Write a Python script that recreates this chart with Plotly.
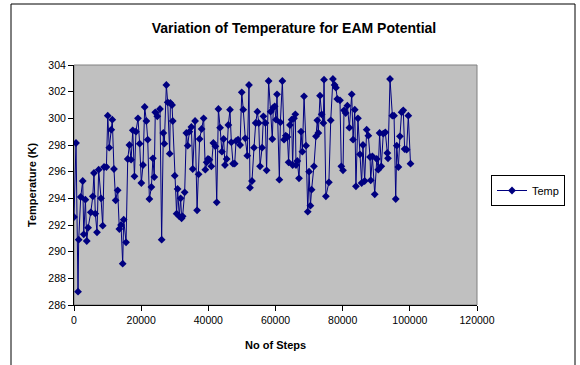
import plotly.graph_objects as go

# Simulation step at which each temperature sample was taken
steps = [
    0, 600, 1200, 1400, 2000, 2600, 2900, 3400, 3800, 4200,
    5000, 5600, 5950, 6350, 6850, 7350, 8050, 8550, 8950, 9650,
    10050, 10500, 11100, 11400, 11900, 12400, 13000, 13500, 14000, 14500,
    14800, 15500, 16000, 16500, 17000, 17500, 18000, 18450, 19050, 19550,
    20050, 20550, 21050, 21550, 21950, 22450, 23050, 23500, 23900, 24200,
    24800, 25600, 26100, 26600, 26900, 27500, 27900, 28500, 28700, 29200,
    29400, 30000, 30550, 30850, 31350, 31750, 32050, 32350, 32950, 33450,
    33850, 34350, 34950, 35350, 36050, 36650, 37100, 37400, 38000, 38600,
    39100, 39500, 39900, 40300, 40900, 41500, 42100, 42500, 43000, 43500,
    44050, 44550, 44950, 45450, 45950, 46450, 46850, 47350, 47850, 48250,
    48850, 49450, 49950, 50400, 51000, 51600, 52100, 52400, 53000, 53600,
    54100, 54600, 55000, 55400, 56000, 56400, 57000, 57350, 57950, 58550,
    59050, 59350, 59750, 60150, 60450, 61150, 61450, 62050, 62550, 63050,
    63550, 63900, 64300, 64800, 65100, 65500, 65900, 66100, 66500, 67000,
    67600, 68000, 68500, 69100, 69600, 70000, 70400, 70750, 71450, 72050,
    72450, 72750, 73250, 73750, 74250, 74450, 75000, 75900, 76450, 77100,
    77600, 78000, 78400, 79200, 79600, 80100, 80400, 80900, 81400, 82000,
    82700, 83100, 83600, 83950, 84550, 85150, 85650, 86050, 86550, 87150,
    87650, 88150, 88350, 88850, 89550, 90150, 90600, 91000, 91500, 92100,
    92700, 93300, 93500, 94100, 94800, 95300, 95800, 96100, 96600, 97050,
    97550, 98050, 98450, 99050, 99550, 100200,
]

# Temperature (K) at each step
temps = [
    292.6, 298.15, 287.0, 290.9, 294.1, 295.3, 291.3, 293.9, 290.8, 291.8,
    292.95, 294.15, 295.9, 292.85, 291.45, 296.15, 294.0, 291.95, 296.35, 296.35,
    300.2, 297.8, 299.15, 299.9, 296.2, 293.85, 294.6, 291.7, 292.0, 289.1,
    292.4, 290.7, 296.95, 298.0, 296.9, 299.1, 295.65, 299.0, 300.0, 298.1,
    295.15, 296.5, 300.85, 299.8, 298.4, 293.95, 294.85, 297.0, 295.6, 300.45,
    300.15, 300.7, 290.9, 298.9, 298.1, 302.5, 301.2, 297.35, 301.15, 301.0,
    299.8, 295.7, 292.85, 294.7, 292.65, 294.0, 292.5, 292.65, 294.45, 298.9,
    297.95, 299.0, 299.35, 296.2, 299.8, 293.1, 295.8, 298.45, 299.2, 300.0,
    296.15, 296.7, 296.95, 296.9, 296.4, 298.15, 297.9, 293.7, 300.7, 299.3,
    297.5, 298.45, 296.5, 296.95, 299.5, 300.65, 298.2, 296.6, 296.6, 298.3,
    298.4, 298.0, 301.95, 300.65, 298.5, 297.2, 302.5, 294.8, 295.3, 297.8,
    299.65, 300.5, 299.65, 296.4, 297.8, 300.15, 299.65, 296.1, 302.8, 300.5,
    298.45, 300.8, 300.9, 299.9, 301.8, 295.4, 299.7, 302.8, 298.4, 298.7,
    298.6, 296.7, 299.5, 299.9, 296.5, 300.0, 300.3, 296.5, 296.8, 295.5,
    299.0, 297.5, 301.65, 297.95, 293.0, 296.0, 293.45, 294.65, 296.4, 298.65,
    299.85, 298.9, 301.7, 300.3, 299.65, 302.9, 294.15, 295.2, 299.85, 302.95,
    302.5, 302.3, 301.45, 301.35, 296.4, 296.1, 300.6, 300.4, 300.95, 299.3,
    301.8, 298.4, 300.65, 294.9, 300.0, 297.3, 295.15, 298.0, 295.3, 299.15,
    298.7, 297.1, 295.35, 297.15, 294.3, 296.95, 296.15, 298.9, 296.4, 298.85,
    298.95, 297.4, 297.0, 302.95, 300.2, 300.2, 293.95, 297.95, 296.35, 298.65,
    300.45, 300.6, 297.7, 297.65, 300.2, 296.6,
]

x_ticks = [0, 20000, 40000, 60000, 80000, 100000, 120000]
y_ticks = [286, 288, 290, 292, 294, 296, 298, 300, 302, 304]

FONT = "Liberation Sans, Arial, sans-serif"
NAVY = "#000080"

fig = go.Figure()
fig.add_trace(go.Scatter(
    x=steps, y=temps, name="Temp", mode="lines+markers",
    line=dict(color=NAVY, width=1),
    marker=dict(symbol="diamond", size=6, color=NAVY),
))

fig.update_layout(
    width=580, height=365,
    margin=dict(l=74, r=103, t=65, b=60),
    paper_bgcolor="white",
    plot_bgcolor="#C0C0C0",
    font=dict(family=FONT, size=10, color="black"),
    title=dict(
        text="<b>Variation of Temperature for EAM Potential</b>",
        x=294 / 580, xanchor="center", xref="container",
        y=1 - 28 / 365, yanchor="middle", yref="container",
        font=dict(family=FONT, size=14, color="black"),
    ),
    showlegend=True,
    legend=dict(
        x=(491 - 74) / 403, xanchor="left",
        y=(305 - 175) / 240, yanchor="top",
        bordercolor="black", borderwidth=1, bgcolor="white",
        font=dict(family=FONT, size=11, color="black"),
        itemwidth=30,
    ),
    xaxis=dict(
        range=[0, 120000], tickvals=x_ticks,
        ticktext=[str(v) for v in x_ticks],
        showgrid=False, zeroline=False,
        showline=True, linecolor="black", linewidth=1,
        ticks="outside", ticklen=5, tickcolor="black",
        tickfont=dict(family=FONT, size=10.5),
    ),
    yaxis=dict(
        range=[286, 304], tickvals=y_ticks,
        showgrid=False, zeroline=False,
        showline=True, linecolor="black", linewidth=1,
        ticks="outside", ticklen=5, tickcolor="black",
        tickfont=dict(family=FONT, size=10.5),
    ),
    shapes=[
        # outer chart frame
        dict(type="rect", xref="paper", yref="paper",
             x0=(11 - 74) / 403, x1=(575 - 74) / 403,
             y0=(305 - 380) / 240, y1=(305 - 4) / 240,
             line=dict(color="black", width=1), fillcolor="rgba(0,0,0,0)",
             layer="below"),
        # plot-area border (top and right edges)
        dict(type="rect", xref="paper", yref="paper",
             x0=0, x1=1, y0=0, y1=1,
             line=dict(color="#808080", width=1), fillcolor="rgba(0,0,0,0)",
             layer="below"),
    ],
    annotations=[
        dict(text="<b>No of Steps</b>", xref="paper", yref="paper",
             x=0.5, y=(305 - 345) / 240, xanchor="center", yanchor="middle",
             showarrow=False, font=dict(family=FONT, size=11, color="black")),
        dict(text="<b>Temperature (K)</b>", xref="paper", yref="paper",
             x=(32 - 74) / 403, y=0.5, xanchor="center", yanchor="middle",
             textangle=-90, showarrow=False,
             font=dict(family=FONT, size=11, color="black")),
    ],
)

fig.write_html("out.html")
